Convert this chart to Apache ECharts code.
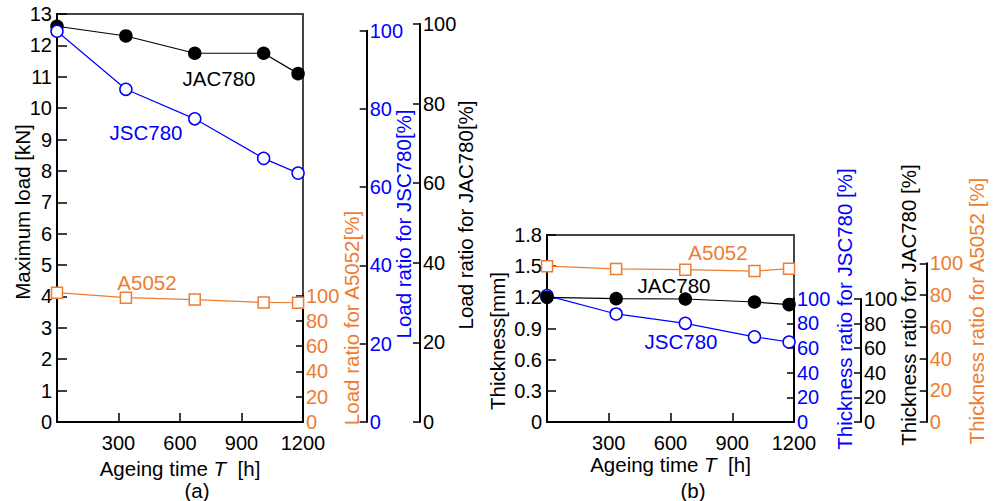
<!DOCTYPE html>
<html>
<head>
<meta charset="utf-8">
<script src="https://cdn.jsdelivr.net/npm/echarts@6/dist/echarts.min.js"></script>
<style>
  html, body { margin: 0; padding: 0; background: #fff; }
  #chart { width: 995px; height: 501px; }
</style>
</head>
<body>
<div id="chart"></div>
<script>
// ageing time [h]
const hours = [0, 336, 672, 1008, 1176];

// (a) maximum load [kN]
const loadJAC780 = [12.61, 12.3, 11.75, 11.75, 11.1];
const loadJSC780 = [12.45, 10.6, 9.66, 8.4, 7.93];
const loadA5052 = [4.12, 3.96, 3.9, 3.81, 3.8];

// (b) thickness [mm]
const thickA5052 = [1.5, 1.473, 1.466, 1.453, 1.476];
const thickJAC780 = [1.2, 1.187, 1.184, 1.155, 1.13];
const thickJSC780 = [1.216, 1.04, 0.95, 0.82, 0.77];

const BLUE = '#0000ff';
const ORANGE = '#ed7d31';
const BLACK = '#000';
const FONT = '"Liberation Sans", Arial, sans-serif';
const TICK_SIZE = 20;
const NAME_SIZE = 20.5;

const pairs = (ys) => hours.map((h, i) => [h, ys[i]]);

// plot boxes
const boxA = { left: 57, top: 14, width: 246, height: 408 };
const boxB = { left: 547, top: 235, width: 247, height: 187 };

function mainGrid(box) {
  return {
    ...box, show: true, borderColor: '#444', borderWidth: 2,
    backgroundColor: 'transparent', outerBoundsMode: 'none', containLabel: false
  };
}
// a grid used only to carry a shorter ratio axis at the right
function ratioGrid(box, top) {
  return {
    left: box.left, width: box.width, top: top, height: box.top + box.height - top,
    show: false, outerBoundsMode: 'none', containLabel: false
  };
}
function hiddenX(gridIndex) {
  return { type: 'value', gridIndex, min: 0, max: 1200, show: false };
}
function timeAxis(gridIndex) {
  return {
    type: 'value', gridIndex, min: 0, max: 1200, interval: 300,
    axisLine: { lineStyle: { color: BLACK, width: 2 } },
    axisTick: { inside: true, length: 9, lineStyle: { color: BLACK, width: 1.5 } },
    axisLabel: {
      showMinLabel: false, color: BLACK, fontSize: TICK_SIZE, fontFamily: FONT, margin: 11,
      formatter: (v) => String(v)
    },
    splitLine: { show: false },
    name: '{n|Ageing time }{t|T}{n|  [h]}',
    nameLocation: 'middle', nameGap: 30,
    nameTextStyle: {
      color: BLACK,
      rich: {
        n: { fontSize: NAME_SIZE, fontFamily: FONT, color: BLACK, lineHeight: 20 },
        t: { fontSize: NAME_SIZE, fontFamily: FONT, fontStyle: 'italic', color: BLACK, lineHeight: 20 }
      }
    }
  };
}
function ratioAxis(gridIndex, offset, color) {
  return {
    type: 'value', gridIndex, position: 'right', offset,
    min: 0, max: 100, interval: 20,
    axisLine: { show: true, onZero: false, lineStyle: { color: BLACK, width: 2 } },
    axisTick: { show: true, inside: true, length: 7, lineStyle: { color: BLACK, width: 1.5 } },
    axisLabel: { color, fontSize: TICK_SIZE, fontFamily: FONT, margin: 3 },
    splitLine: { show: false }
  };
}
function label(text, x, y, color, rotate) {
  return {
    type: 'text', x, y, rotation: rotate ? Math.PI / 2 : 0,
    style: {
      text, fill: color, fontSize: NAME_SIZE, fontFamily: FONT,
      align: 'center', verticalAlign: 'middle'
    }
  };
}

const lineSeries = (name, xi, yi, data, color, symbol, filled, z) => ({
  name, type: 'line', xAxisIndex: xi, yAxisIndex: yi,
  data: pairs(data), symbol, symbolSize: symbol === 'rect' ? 11 : 12,
  clip: false, z,
  lineStyle: { color, width: 1.2 },
  itemStyle: { color: filled ? color : '#fff', borderColor: color, borderWidth: 1.5 },
  emphasis: { disabled: true }
});

const option = {
  animation: false,
  backgroundColor: '#fff',
  textStyle: { fontFamily: FONT },
  grid: [
    mainGrid(boxA),            // 0
    ratioGrid(boxA, 295.5),    // 1 A5052 ratio
    ratioGrid(boxA, 30.7),     // 2 JSC780 ratio
    ratioGrid(boxA, 24),       // 3 JAC780 ratio
    mainGrid(boxB),            // 4
    ratioGrid(boxB, 298.6),    // 5 JSC780 ratio
    ratioGrid(boxB, 299),      // 6 JAC780 ratio
    ratioGrid(boxB, 263.3)     // 7 A5052 ratio
  ],
  xAxis: [
    timeAxis(0), hiddenX(1), hiddenX(2), hiddenX(3),
    timeAxis(4), hiddenX(5), hiddenX(6), hiddenX(7)
  ],
  yAxis: [
    {
      type: 'value', gridIndex: 0, min: 0, max: 13, interval: 1,
      axisLine: { show: true, lineStyle: { color: BLACK, width: 2 } },
      axisTick: { show: true, inside: true, length: 10, lineStyle: { color: BLACK, width: 1.5 } },
      axisLabel: { color: BLACK, fontSize: TICK_SIZE, fontFamily: FONT, margin: 5 },
      splitLine: { show: false }
    },
    ratioAxis(1, 0, ORANGE),
    ratioAxis(2, 63.7, BLUE),
    ratioAxis(3, 117, BLACK),
    {
      type: 'value', gridIndex: 4, min: 0, max: 1.8, interval: 0.3,
      axisLine: { show: true, lineStyle: { color: BLACK, width: 2 } },
      axisTick: { show: true, inside: true, length: 9, lineStyle: { color: BLACK, width: 1.5 } },
      axisLabel: {
        color: BLACK, fontSize: TICK_SIZE, fontFamily: FONT, margin: 5,
        formatter: (v) => (v === 0 ? '0' : v.toFixed(1))
      },
      splitLine: { show: false }
    },
    ratioAxis(5, 0, BLUE),
    ratioAxis(6, 67, BLACK),
    ratioAxis(7, 132.7, ORANGE)
  ],
  series: [
    lineSeries('A5052', 0, 0, loadA5052, ORANGE, 'rect', false, 2),
    lineSeries('JAC780', 0, 0, loadJAC780, BLACK, 'circle', true, 3),
    lineSeries('JSC780', 0, 0, loadJSC780, BLUE, 'circle', false, 4),
    lineSeries('A5052', 4, 4, thickA5052, ORANGE, 'rect', false, 2),
    lineSeries('JSC780', 4, 4, thickJSC780, BLUE, 'circle', false, 3),
    lineSeries('JAC780', 4, 4, thickJAC780, BLACK, 'circle', true, 4)
  ],
  graphic: [
    label('Maximum load [kN]', 22, 212, BLACK, true),
    label('Load ratio for A5052[%]', 351, 318, ORANGE, true),
    label('Load ratio for JSC780[%]', 403, 224, BLUE, true),
    label('Load ratio for JAC780[%]', 465, 215, BLACK, true),
    label('JAC780', 219, 78, BLACK),
    label('JSC780', 146, 132, BLUE),
    label('A5052', 147, 282, ORANGE),
    label('(a)', 197, 490, BLACK),
    label('Thickness[mm]', 497, 341, BLACK, true),
    label('Thickness ratio for JSC780 [%]', 844, 309, BLUE, true),
    label('Thickness ratio for JAC780 [%]', 908, 305, BLACK, true),
    label('Thickness ratio for A5052 [%]', 976, 311, ORANGE, true),
    label('A5052', 718, 252, ORANGE),
    label('JAC780', 674, 285, BLACK),
    label('JSC780', 681, 341, BLUE),
    label('(b)', 693, 490, BLACK)
  ]
};

const chart = echarts.init(document.getElementById('chart'), null, { renderer: 'svg' });
chart.setOption(option);
</script>
</body>
</html>
